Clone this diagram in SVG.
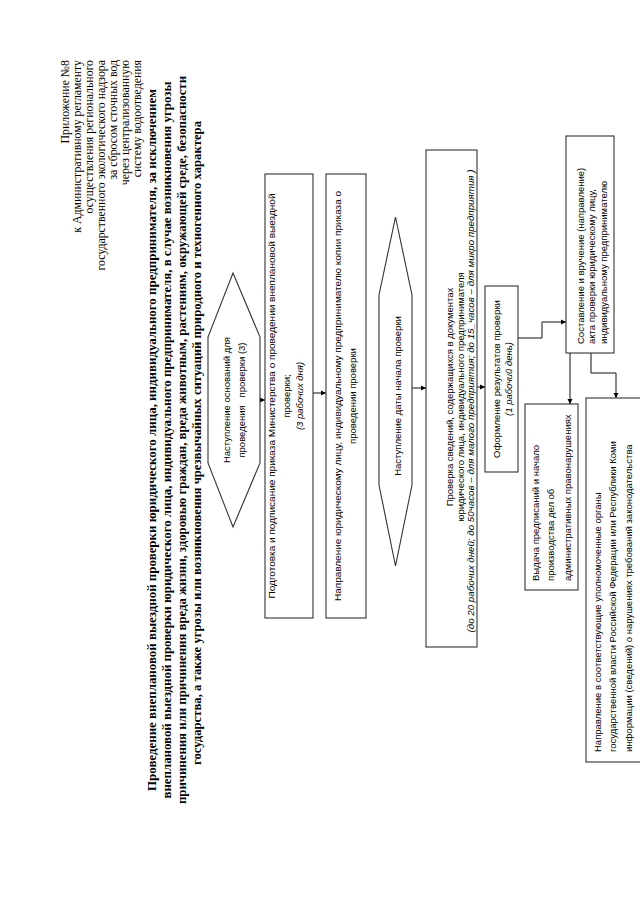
<svg xmlns="http://www.w3.org/2000/svg" width="640" height="905" viewBox="0 0 640 905">
<style>
.hdr{font-family:"Liberation Serif","Times New Roman",serif;font-size:11.8px;fill:#000}
.ttl{font-family:"Liberation Serif","Times New Roman",serif;font-size:12.5px;font-weight:bold;fill:#000}
.t{font-family:"Liberation Sans",Arial,sans-serif;font-size:9.5px;fill:#000}
.ti{font-family:"Liberation Sans",Arial,sans-serif;font-size:9.5px;font-style:italic;fill:#000}
.c{text-anchor:middle}
.box{fill:#fff;stroke:#333;stroke-width:1.1}
.con{fill:none;stroke:#111;stroke-width:1}
</style>
<defs>
<marker id="ah" markerWidth="6" markerHeight="6" refX="5" refY="3" orient="auto" markerUnits="userSpaceOnUse">
<path d="M0,0.5 L5,3 L0,5.5 Z" fill="#000"/>
</marker>
</defs>
<rect width="640" height="905" fill="#fff"/>
<g transform="translate(0,905) rotate(-90)">
<g id="header">
<text class="hdr" text-anchor="end" x="845" y="69">Приложение №8</text>
<text class="hdr" text-anchor="end" x="845" y="81">к Административному регламенту</text>
<text class="hdr" text-anchor="end" x="845" y="93">осуществления регионального</text>
<text class="hdr" text-anchor="end" x="845" y="105">государственного экологического надзора</text>
<text class="hdr" text-anchor="end" x="845" y="117">за сбросом сточных вод</text>
<text class="hdr" text-anchor="end" x="845" y="129">через централизованную</text>
<text class="hdr" text-anchor="end" x="845" y="141">систему водоотведения</text>
</g>
<g id="title">
<text class="ttl c" x="465" y="156" textLength="702" lengthAdjust="spacingAndGlyphs">Проведение внеплановой выездной проверки юридического лица, индивидуального предпринимателя, за исключением</text>
<text class="ttl c" x="465" y="171" textLength="717" lengthAdjust="spacingAndGlyphs">внеплановой выездной проверки юридического лица, индивидуального предпринимателя, в случае возникновения угрозы</text>
<text class="ttl c" x="465" y="186" textLength="728" lengthAdjust="spacingAndGlyphs">причинения или причинения вреда жизни, здоровью граждан, вреда животным, растениям, окружающей среде, безопасности</text>
<text class="ttl c" x="462" y="201" textLength="644" lengthAdjust="spacingAndGlyphs">государства, а также угрозы или возникновения чрезвычайных ситуаций природного и техногенного характера</text>
</g>
<g id="connectors">
<line class="con" x1="505" y1="260" x2="505" y2="265" marker-end="url(#ah)"/>
<line class="con" x1="512" y1="313" x2="512" y2="326" marker-end="url(#ah)"/>
<line class="con" x1="517" y1="412" x2="517" y2="426" marker-end="url(#ah)"/>
<line class="con" x1="518" y1="477" x2="518" y2="485" marker-end="url(#ah)"/>
<polyline class="con" points="567,518 567,542 583,542 583,566" marker-end="url(#ah)"/>
<line class="con" x1="552" y1="570" x2="501" y2="570" marker-end="url(#ah)"/>
<polyline class="con" points="552,591 532,591 532,616 507,616" marker-end="url(#ah)"/>
</g>
<g id="n1">
<polygon class="box" points="378,233 442,208 568,208 632,233 568,260 442,260"/>
<text class="t c" x="505" y="230">Наступление оснований для</text>
<text class="t c" x="505" y="245" xml:space="preserve">проведения   проверки (3)</text>
</g>
<g id="n2">
<rect class="box" x="287" y="265" width="444" height="48"/>
<text class="t c" x="509" y="275" textLength="405" lengthAdjust="spacingAndGlyphs">Подготовка и подписание приказа Министерства о проведении внеплановой выездной</text>
<text class="t c" x="509" y="290">проверки;</text>
<text class="ti c" x="509" y="303">(3 рабочих дня)</text>
</g>
<g id="n3">
<rect class="box" x="287" y="326" width="444" height="40"/>
<text class="t c" x="509" y="340.5" textLength="410" lengthAdjust="spacingAndGlyphs">Направление юридическому лицу, индивидуальному предпринимателю копии приказа о</text>
<text class="t c" x="509" y="355.5">проведении проверки</text>
</g>
<g id="n4">
<polygon class="box" points="339,395.5 420,379 610,379 688,395.5 610,412 420,412"/>
<text class="t c" x="509" y="400.5">Наступление даты начала проверки</text>
</g>
<g id="n5">
<rect class="box" x="258" y="426" width="497" height="51"/>
<text class="t c" x="508" y="453">Проверка сведений, содержащихся в документах</text>
<text class="t c" x="508" y="463.5">юридического лица, индивидуального предпринимателя</text>
<text class="ti c" x="504" y="474" textLength="463" lengthAdjust="spacingAndGlyphs">(до 20 рабочих дней; до 50часов – для малого предприятия; до 15_часов – для микро предприятия )</text>
</g>
<g id="n6">
<rect class="box" x="433" y="485" width="186" height="33"/>
<text class="t c" x="526" y="500">Оформление результатов проверки</text>
<text class="ti c" x="526" y="511.5">(1 рабочий день)</text>
</g>
<g id="n7">
<rect class="box" x="552" y="566" width="217" height="48"/>
<text class="t" x="561" y="583.5">Составление и вручение (направление)</text>
<text class="t" x="561" y="595">акта проверки юридическому лицу,</text>
<text class="t" x="561" y="606.5">индивидуальному предпринимателю</text>
</g>
<g id="n8">
<rect class="box" x="315" y="525" width="186" height="53"/>
<text class="t" x="324" y="538.5">Выдача предписаний и начало</text>
<text class="t" x="324" y="554">производства дел об</text>
<text class="t" x="324" y="570.5">административных правонарушениях</text>
</g>
<g id="n9">
<rect class="box" x="143" y="586" width="364" height="70"/>
<text class="t" x="153" y="600.5">Направление в соответствующие уполномоченные органы</text>
<text class="t" x="153" y="615.5">государственной власти Российской Федерации или Республики Коми</text>
<text class="t" x="153" y="631.5">информации (сведений) о нарушениях требований законодательства</text>
</g>
</g>
</svg>
